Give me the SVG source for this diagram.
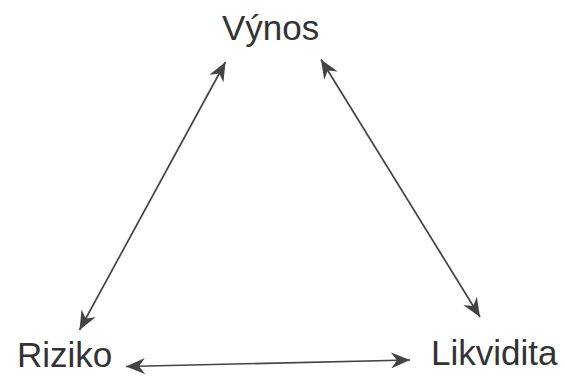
<svg xmlns="http://www.w3.org/2000/svg" width="565" height="376" viewBox="0 0 565 376">
<style>
.lbl{font-family:"Liberation Sans",Arial,sans-serif;font-size:35px;fill:#333}
.con{stroke:#444;stroke-width:1.7;fill:none;marker-start:url(#ah);marker-end:url(#ah)}
</style>
<defs>
<marker id="ah" markerUnits="userSpaceOnUse" markerWidth="20" markerHeight="16" viewBox="0 0 20 16" refX="19" refY="8" orient="auto-start-reverse">
<path d="M0,0 L19,8 L0,16 L6,8 Z" fill="#444"/>
</marker>
</defs>
<rect width="565" height="376" fill="#fff"/>
<g id="vynos"><text class="lbl" x="222" y="40">Výnos</text></g>
<g id="riziko"><text class="lbl" x="17" y="367">Riziko</text></g>
<g id="likvidita"><text class="lbl" x="431" y="365">Likvidita</text></g>
<g id="connectors">
<line class="con" x1="79.5" y1="330" x2="225.5" y2="62"/>
<line class="con" x1="480" y1="317" x2="321" y2="59.5"/>
<line class="con" x1="126" y1="366.5" x2="410" y2="360"/>
</g>
</svg>
